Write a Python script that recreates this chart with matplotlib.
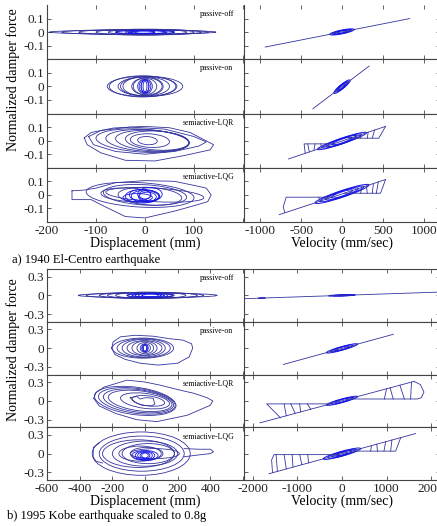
import numpy as np
import matplotlib
matplotlib.use("Agg")
import matplotlib.pyplot as plt
from matplotlib.patches import Ellipse
from matplotlib.transforms import Affine2D

plt.rcParams['font.family'] = ['Liberation Serif', 'DejaVu Serif']
plt.rcParams['axes.unicode_minus'] = False

# ======================= DATA =======================
# ---- (a) El-Centro : force vs displacement (mm) ----
a_off_cx = [-25, -20, -10, 0, 5, 0, 0, 0]
a_off_hw = [170, 150, 125, 100, 80, 60, 40, 20]
a_off_hh = [0.014, 0.018, 0.02, 0.022, 0.02, 0.018, 0.016, 0.012]

a_on_cx = [0, -5, 5, 0, -5, 5, 0, 0, 0]
a_on_hw = [77, 68, 60, 50, 40, 32, 24, 15, 8]
a_on_hh = [0.075, 0.078, 0.072, 0.07, 0.068, 0.065, 0.06, 0.055, 0.05]

a_lqr_out_x = [-124, -110, -64, -3, 50, 92, 140, 133, 80, 20, -40, -90, -118, -124]
a_lqr_out_y = [0.02, 0.06, 0.093, 0.105, 0.095, 0.06, -0.03, -0.068, -0.11, -0.15, -0.145, -0.09, -0.03, 0.02]
a_lqr_in_x = [-115, -90, -30, 40, 100, 125, 110, 60, 0, -60, -105, -115]
a_lqr_in_y = [0.03, 0.075, 0.1, 0.085, 0.03, -0.01, -0.04, -0.08, -0.1, -0.08, -0.03, 0.03]
a_lqr_cx = [-5, 5, 15, 25, 10, 5]
a_lqr_cy = [0.0, 0.0, 0.0, 0.0, 0.0, 0.0]
a_lqr_hw = [95, 85, 75, 65, 40, 20]
a_lqr_hh = [0.085, 0.08, 0.075, 0.07, 0.05, 0.03]

a_lqg_out_x = [-149, -125, -100, -60, 0, 60, 100, 125, 135, 128, 100, 60, 0, -40, -80, -110, -149, -149]
a_lqg_out_y = [0.03, 0.035, 0.05, 0.09, 0.105, 0.1, 0.07, 0.05, 0.0, -0.05, -0.08, -0.12, -0.17, -0.16, -0.09, -0.035, -0.035, 0.03]
a_lqg_cx = [-10, 0, 10, 20, -30]
a_lqg_cy = [0.0, 0.0, -0.01, 0.0, 0.0]
a_lqg_hw = [110, 85, 65, 100, 60]
a_lqg_hh = [0.09, 0.075, 0.065, 0.05, 0.05]
a_lqg_dn_cx = [-5, 0, -10, 5, 0, -15, 10]
a_lqg_dn_cy = [-0.01, -0.01, 0.0, -0.015, 0.0, -0.02, 0.005]
a_lqg_dn_hw = [35, 28, 22, 18, 12, 30, 25]
a_lqg_dn_hh = [0.05, 0.045, 0.04, 0.035, 0.03, 0.03, 0.05]

# ---- (a) El-Centro : force vs velocity (mm/sec) ----
a_off_v = [-940, 830]
a_off_f = [-0.11, 0.10]
a_off_ls = [150, 120, 90, 60]
a_off_lt = [0.014, 0.012, 0.01, 0.008]

a_on_v = [-357, 333]
a_on_f = [-0.165, 0.15]
a_on_ls = [100, 80, 60, 40]
a_on_lt = [0.02, 0.017, 0.014, 0.01]

a_lqr_v = [-655, 533]
a_lqr_f = [-0.135, 0.105]
a_lqr_lp_v = [-450, -464, -100]
a_lqr_lp_f = [-0.094, -0.024, -0.024]
a_lqr_rp_v = [100, 450, 533]
a_lqr_rp_f = [0.018, 0.018, 0.105]
a_lqr_arc_e = [-420, -330, -260, -200, 150, 230, 310, 370]
a_lqr_arc_l = [-400, -345, -250, -190, 165, 215, 320, 400]
a_lqr_ls = [300, 240, 180, 120]
a_lqr_lt = [0.022, 0.02, 0.018, 0.014]

a_lqg_v = [-769, 533]
a_lqg_f = [-0.146, 0.113]
a_lqg_lp_v = [-700, -720, -684, -138]
a_lqg_lp_f = [-0.13, -0.09, -0.017, -0.017]
a_lqg_rp_v = [30, 472, 533]
a_lqg_rp_f = [0.012, 0.012, 0.113]
a_lqg_arc_e = [-285, -220, 228, 309, 370, 420]
a_lqg_arc_l = [-270, -200, 240, 300, 385, 445]
a_lqg_ls = [330, 270, 200, 130]
a_lqg_lt = [0.026, 0.022, 0.02, 0.016]

# ---- (b) Kobe : force vs displacement (mm) ----
b_off_cx = [17, 0, 20, 10, 0, 30, 40, 20]
b_off_hw = [425, 360, 300, 240, 180, 140, 100, 60]
b_off_hh = [0.035, 0.045, 0.05, 0.05, 0.045, 0.04, 0.035, 0.03]

b_on_out_x = [-204, -195, -150, -60, 50, 150, 233, 285, 292, 270, 200, 80, -30, -120, -185, -204]
b_on_out_y = [0.0, 0.1, 0.18, 0.205, 0.19, 0.15, 0.127, 0.07, 0.0, -0.14, -0.24, -0.27, -0.24, -0.18, -0.1, 0.0]
b_on_cx = [-13, -8, -8, -3, -3, 2, 2, 0]
b_on_hw = [188, 163, 132, 107, 77, 51, 31, 15]
b_on_hh = [0.16, 0.15, 0.14, 0.12, 0.11, 0.09, 0.07, 0.05]

b_lqr_out_x = [-314, -300, -250, -110, 0, 94, 200, 300, 380, 415, 400, 257, 73, -50, -180, -280, -314]
b_lqr_out_y = [0.04, 0.13, 0.22, 0.33, 0.3, 0.25, 0.18, 0.12, 0.05, 0.0, -0.07, -0.23, -0.33, -0.3, -0.2, -0.08, 0.04]
b_lqr_cx = [-60, -50, -40, -30, 0, 20]
b_lqr_hw = [250, 235, 215, 195, 150, 100]
b_lqr_hh = [0.22, 0.2, 0.18, 0.16, 0.12, 0.08]
b_lqr_in_x = [-90, -50, -30, 0, 20, 50, 60, 40, -20, -60, -90]
b_lqr_in_y = [0.05, 0.07, 0.03, 0.05, 0.05, 0.04, -0.05, -0.08, -0.07, -0.02, 0.05]

b_lqg_cx = [-23, -20, -40, 0, 20, -30, 10, 60]
b_lqg_hw = [300, 260, 220, 200, 160, 130, 100, 150]
b_lqg_hh = [0.345, 0.28, 0.22, 0.2, 0.16, 0.12, 0.1, 0.08]
b_lqg_tail_x = [240, 330, 400, 420, 400, 330, 240]
b_lqg_tail_y = [0.08, 0.07, 0.07, 0.03, 0.0, -0.02, -0.05]
b_lqg_flag_x = [-280, -316, -318, -300, -260]
b_lqg_flag_y = [0.17, 0.1, -0.05, -0.12, -0.15]
b_lqg_dn_hw = [80, 60, 45, 30, 20]
b_lqg_dn_hh = [0.08, 0.07, 0.06, 0.05, 0.04]

# ---- (b) Kobe : force vs velocity (mm/sec) ----
b_off_v = [-2300, 2300]
b_off_f = [-0.055, 0.055]
b_off_ls = [300, 200, 100]
b_off_lt = [0.01, 0.008, 0.006]

b_on_v = [-1317, 1152]
b_on_f = [-0.26, 0.22]
b_on_ls = [350, 250, 150]
b_on_lt = [0.03, 0.025, 0.02]

b_lqr_v = [-1841, 1616]
b_lqr_f = [-0.35, 0.31]
b_lqr_lp_v = [-1380, -1691, -260]
b_lqr_lp_f = [-0.27, -0.048, -0.048]
b_lqr_rp_v = [1616, 1760, 1840, 1780, 1691, 200]
b_lqr_rp_f = [0.31, 0.26, 0.14, 0.05, 0.03, 0.03]
b_lqr_arc_e = [-1300, -1150, -950, -780, 950, 1150, 1400, 1540]
b_lqr_arc_l = [-1250, -1050, -930, -700, 1000, 1080, 1300, 1560]
b_lqr_ls = [350, 250, 150]
b_lqr_lt = [0.03, 0.025, 0.02]

b_lqg_v = [-1639, 1654]
b_lqg_f = [-0.32, 0.32]
b_lqg_lp_v = [-1560, -1580, -1526, -72]
b_lqg_lp_f = [-0.3, -0.1, -0.016, -0.016]
b_lqg_rp_v = [217, 1205, 1317]
b_lqg_rp_f = [0.04, 0.04, 0.253]
b_lqg_arc_e = [-1480, -1300, -1120, -950, -770, 643, 797, 943, 1092]
b_lqg_arc_l = [-1450, -1250, -1100, -900, -750, 660, 780, 980, 1120]
b_lqg_ls = [420, 320, 220, 120]
b_lqg_lt = [0.04, 0.034, 0.028, 0.02]

labels = ["passive-off", "passive-on", "semiactive-LQR", "semiactive-LQG"]
a_disp_ticks = [-200, -100, 0, 100, 200]
a_disp_lab = ['-200', '-100', '0', '100', '']
a_vel_ticks = [-1000, -500, 0, 500, 1000]
b_disp_ticks = [-600, -400, -200, 0, 200, 400, 600]
b_disp_lab = ['-600', '-400', '-200', '0', '200', '400', '']
b_vel_ticks = [-2000, -1000, 0, 1000, 2000]

# ======================= STYLE =======================
LINE = '#33339e'
DENSE = '#1515e6'
LW = 0.6
SPINE = '#444444'
W, H = 437, 526

fig = plt.figure(figsize=(W / 100, H / 100), dpi=100)


def add_ax(x, top, w, h):
    return fig.add_axes([x / W, 1 - (top + h) / H, w / W, h / H])


def ellipses(ax, cx, cy, hw, hh, k=0.0, color=LINE, lw=LW):
    for x, y, a, b in zip(cx, cy, hw, hh):
        tr = Affine2D().from_values(1, k, 0, 1, x, y) + ax.transData
        ax.add_patch(Ellipse((0, 0), 2 * a, 2 * b, fill=False, ec=color, lw=lw, transform=tr))


def outline(ax, xs, ys, color=LINE, lw=LW):
    ax.plot(xs, ys, color=color, lw=lw, solid_joinstyle='round')


def velocity_panel(ax, v, f, ls, lt, color=DENSE):
    outline(ax, v, f)
    k = (f[1] - f[0]) / (v[1] - v[0])
    f0 = np.interp(0, v, f)
    ellipses(ax, [0] * len(ls), [f0] * len(ls), ls, lt, k=k, color=color, lw=0.7)


def arcs(ax, v, f, lp_f, rp_f, ve, vl):
    for a, b in zip(ve, vl):
        lvl = lp_f[-1] if a < 0 else rp_f[0]
        ax.plot([a, b], [lvl, np.interp(b, v, f)], color=LINE, lw=LW)


def style(ax, xlim, ylim, xt, xlab, yt, ylab, showx, showy, hide_top=False, left_panel=False):
    ax.set_xlim(*xlim)
    ax.set_ylim(*ylim)
    ax.set_xticks(xt)
    ax.set_yticks(yt)
    ax.tick_params(direction='in', top=True, right=not left_panel, length=3, width=0.5,
                   labelsize=9.5, pad=2, colors='#222222')
    ax.set_yticklabels(ylab if showy else [])
    ax.set_xticklabels(xlab if showx else [])
    for s in ax.spines.values():
        s.set_color(SPINE)
        s.set_linewidth(0.8)
    if hide_top:
        ax.spines['top'].set_visible(False)
    if left_panel:
        ax.spines['right'].set_visible(False)


# ======================= GROUP (a) =======================
a_tops = [5, 59.25, 113.5, 167.75]
a_h = 54.25
b_tops = [269, 321.75, 374.5, 427.25]
b_h = 52.75
lab_x = [0.78, 0.78, 0.694, 0.694]

axL = [add_ax(47, t, 196, a_h) for t in a_tops]
axR = [add_ax(244, t, 196, a_h) for t in a_tops]

ellipses(axL[0], a_off_cx, [0] * 8, a_off_hw, a_off_hh)
ellipses(axL[0], [0, 5, -5], [0, 0, 0], [60, 40, 25], [0.012, 0.01, 0.008], color=DENSE)
ellipses(axL[1], a_on_cx, [0] * 9, a_on_hw, a_on_hh)
ellipses(axL[1], [0, 0, 0], [0, 0, 0], [12, 8, 4], [0.05, 0.045, 0.04], color=DENSE)
outline(axL[2], a_lqr_out_x, a_lqr_out_y)
outline(axL[2], a_lqr_in_x, a_lqr_in_y)
ellipses(axL[2], a_lqr_cx, a_lqr_cy, a_lqr_hw, a_lqr_hh, k=-0.0002)
outline(axL[3], a_lqg_out_x, a_lqg_out_y)
ellipses(axL[3], a_lqg_cx, a_lqg_cy, a_lqg_hw, a_lqg_hh, k=-0.0002)
ellipses(axL[3], a_lqg_dn_cx, a_lqg_dn_cy, a_lqg_dn_hw, a_lqg_dn_hh, color=DENSE)

velocity_panel(axR[0], a_off_v, a_off_f, a_off_ls, a_off_lt)
velocity_panel(axR[1], a_on_v, a_on_f, a_on_ls, a_on_lt)
velocity_panel(axR[2], a_lqr_v, a_lqr_f, a_lqr_ls, a_lqr_lt)
outline(axR[2], a_lqr_lp_v, a_lqr_lp_f)
outline(axR[2], a_lqr_rp_v, a_lqr_rp_f)
arcs(axR[2], a_lqr_v, a_lqr_f, a_lqr_lp_f, a_lqr_rp_f, a_lqr_arc_e, a_lqr_arc_l)
velocity_panel(axR[3], a_lqg_v, a_lqg_f, a_lqg_ls, a_lqg_lt)
outline(axR[3], a_lqg_lp_v, a_lqg_lp_f)
outline(axR[3], a_lqg_rp_v, a_lqg_rp_f)
arcs(axR[3], a_lqg_v, a_lqg_f, a_lqg_lp_f, a_lqg_rp_f, a_lqg_arc_e, a_lqg_arc_l)

for i in range(4):
    style(axL[i], (-200, 200), (-0.2, 0.2), a_disp_ticks, a_disp_lab, [-0.1, 0, 0.1],
          ['-0.1', '0', '0.1'], i == 3, True, hide_top=(i == 0), left_panel=True)
    style(axR[i], (-1200, 1200), (-0.2, 0.2), a_vel_ticks, [str(t) for t in a_vel_ticks],
          [-0.1, 0, 0.1], None, i == 3, False, hide_top=(i == 0))
    axL[i].text(lab_x[i], 0.83, labels[i], transform=axL[i].transAxes, fontsize=5.6,
                va='center', ha='left')
axL[3].set_xlabel('Displacement (mm)', fontsize=10, labelpad=0)
axR[3].set_xlabel('Velocity (mm/sec)', fontsize=10, labelpad=0)

# ======================= GROUP (b) =======================
bxL = [add_ax(47, t, 196, b_h) for t in b_tops]
bxR = [add_ax(244, t, 196, b_h) for t in b_tops]

ellipses(bxL[0], b_off_cx, [0] * 8, b_off_hw, b_off_hh)
ellipses(bxL[0], [30, 20, 40], [0, 0, 0], [140, 100, 60], [0.03, 0.025, 0.02], color=DENSE)
outline(bxL[1], b_on_out_x, b_on_out_y)
ellipses(bxL[1], b_on_cx, [0] * 8, b_on_hw, b_on_hh)
ellipses(bxL[1], [0, 0], [0, 0], [20, 10], [0.06, 0.05], color=DENSE)
outline(bxL[2], b_lqr_out_x, b_lqr_out_y)
ellipses(bxL[2], b_lqr_cx, [0] * 6, b_lqr_hw, b_lqr_hh, k=-0.0003)
outline(bxL[2], b_lqr_in_x, b_lqr_in_y)
ellipses(bxL[3], b_lqg_cx, [0] * 8, b_lqg_hw, b_lqg_hh)
outline(bxL[3], b_lqg_tail_x, b_lqg_tail_y)
outline(bxL[3], b_lqg_flag_x, b_lqg_flag_y)
ellipses(bxL[3], [0] * 5, [-0.03] * 5, b_lqg_dn_hw, b_lqg_dn_hh, color=DENSE)

velocity_panel(bxR[0], b_off_v, b_off_f, b_off_ls, b_off_lt)
ellipses(bxR[0], [-1800], [np.interp(-1800, b_off_v, b_off_f)], [80], [0.008],
         k=(b_off_f[1] - b_off_f[0]) / (b_off_v[1] - b_off_v[0]), color=DENSE)
velocity_panel(bxR[1], b_on_v, b_on_f, b_on_ls, b_on_lt)
velocity_panel(bxR[2], b_lqr_v, b_lqr_f, b_lqr_ls, b_lqr_lt)
outline(bxR[2], b_lqr_lp_v, b_lqr_lp_f)
outline(bxR[2], b_lqr_rp_v, b_lqr_rp_f)
arcs(bxR[2], b_lqr_v, b_lqr_f, b_lqr_lp_f, [b_lqr_rp_f[-1]], b_lqr_arc_e, b_lqr_arc_l)
velocity_panel(bxR[3], b_lqg_v, b_lqg_f, b_lqg_ls, b_lqg_lt)
outline(bxR[3], b_lqg_lp_v, b_lqg_lp_f)
outline(bxR[3], b_lqg_rp_v, b_lqg_rp_f)
arcs(bxR[3], b_lqg_v, b_lqg_f, b_lqg_lp_f, b_lqg_rp_f, b_lqg_arc_e, b_lqg_arc_l)

for i in range(4):
    style(bxL[i], (-600, 600), (-0.42, 0.42), b_disp_ticks, b_disp_lab, [-0.3, 0, 0.3],
          ['-0.3', '0', '0.3'], i == 3, True, left_panel=True)
    style(bxR[i], (-2200, 2200), (-0.42, 0.42), b_vel_ticks, [str(t) for t in b_vel_ticks],
          [-0.3, 0, 0.3], None, i == 3, False)
    bxL[i].text(lab_x[i], 0.83, labels[i], transform=bxL[i].transAxes, fontsize=5.6,
                va='center', ha='left')
bxL[3].set_xlabel('Displacement (mm)', fontsize=10, labelpad=0)
bxR[3].set_xlabel('Velocity (mm/sec)', fontsize=10, labelpad=0)

# ======================= TEXT =======================
fig.text(13 / W, 1 - 80 / H, 'Normalized damper force', rotation=90, fontsize=10,
         ha='center', va='center')
fig.text(13 / W, 1 - 350 / H, 'Normalized damper force', rotation=90, fontsize=10,
         ha='center', va='center')
fig.text(12 / W, 1 - 260 / H, 'a) 1940 El-Centro earthquake', fontsize=9, ha='left', va='center')
fig.text(7 / W, 1 - 516 / H, 'b) 1995 Kobe earthquake scaled to 0.8g', fontsize=9, ha='left', va='center')

fig.savefig('out.png', dpi=100)
